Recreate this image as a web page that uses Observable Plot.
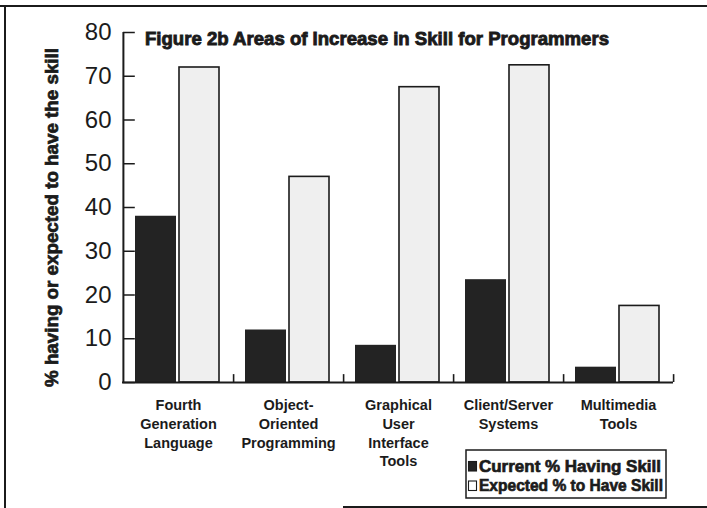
<!DOCTYPE html>
<html><head><meta charset="utf-8">
<script src="https://cdn.jsdelivr.net/npm/d3@7"></script>
<script src="https://cdn.jsdelivr.net/npm/@observablehq/plot@0.6"></script>
<style>body{margin:0;background:#fff} #chart{width:707px;height:508px;}</style>
</head><body><div id="chart"></div>
<script>
const categories = ["Fourth Generation Language", "Object-Oriented Programming", "Graphical User Interface Tools", "Client/Server Systems", "Multimedia Tools"];
const tickLabels = ["Fourth\nGeneration\nLanguage", "Object-\nOriented\nProgramming", "Graphical\nUser\nInterface\nTools", "Client/Server\nSystems", "Multimedia\nTools"];
const current = [38, 12, 8.5, 23.5, 3.5];
const expected = [72, 47, 67.5, 72.5, 17.5];
const seriesNames = ["Current % Having Skill", "Expected % to Have Skill"];
const yTicks = [0, 10, 20, 30, 40, 50, 60, 70, 80];
const titleText = "Figure 2b Areas of Increase in Skill for Programmers";
const yTitle = "% having or expected to have the skill";

const rows = categories.flatMap((c, i) => [
  {category: c, series: seriesNames[0], value: current[i]},
  {category: c, series: seriesNames[1], value: expected[i]}
]);

const ink = "#1b1b1b";
const W = 707, H = 508, mL = 122, mR = 34, mT = 32, mB = 126;
const bw = (W - mL - mR) / categories.length;

const svg = Plot.plot({
  width: W, height: H,
  marginLeft: mL, marginRight: mR, marginTop: mT, marginBottom: mB,
  style: {background: "#fff", color: ink, fontFamily: "'Liberation Sans', Arial, sans-serif", overflow: "visible"},
  x: {domain: categories, padding: 0, axis: null},
  y: {domain: [0, 80], axis: null},
  marks: [
    Plot.tickY(yTicks, {x: () => categories[0], y: d => d, stroke: ink, strokeWidth: 1.5, insetRight: bw - 12}),
    Plot.barY(rows.filter(d => d.series === seriesNames[0]), {x: "category", y: "value", fill: "#232323", insetLeft: 12, insetRight: 57}),
    Plot.barY(rows.filter(d => d.series === seriesNames[1]), {x: "category", y: "value", fill: "#efefef", stroke: ink, strokeWidth: 1.6, insetLeft: 56, insetRight: 14}),
    Plot.ruleY([0], {stroke: ink, strokeWidth: 2}),
    Plot.ruleX(categories, {x: d => d, y1: 0, y2: 1.8, dx: bw / 2, stroke: ink, strokeWidth: 1.6}),
    Plot.ruleX([categories[0]], {x: d => d, dx: -bw / 2, stroke: ink, strokeWidth: 2}),
    Plot.axisY({ticks: yTicks, tickSize: 0, tickPadding: 11, fontSize: 24, label: null}),
    Plot.axisX({tickSize: 0, tickPadding: 14, fontSize: 14.5, fontWeight: "bold", lineHeight: 1.3,
      tickFormat: d => tickLabels[categories.indexOf(d)], label: null})
  ]
});

const s = d3.select(svg);
// frame lines of the scanned figure
s.append("line").attr("x1", 0).attr("x2", W).attr("y1", 6).attr("y2", 6).attr("stroke", ink).attr("stroke-width", 2);
s.append("line").attr("x1", 5).attr("x2", 5).attr("y1", 6).attr("y2", H).attr("stroke", ink).attr("stroke-width", 2);
s.append("line").attr("x1", 343).attr("x2", W).attr("y1", 507).attr("y2", 507).attr("stroke", ink).attr("stroke-width", 2);

// title
s.append("text").text(titleText)
  .attr("x", 145).attr("y", 45).attr("text-anchor", "start")
  .attr("font-size", 19).attr("font-weight", "bold").attr("fill", ink)
  .attr("stroke", ink).attr("stroke-width", 0.9)
  .attr("textLength", 464).attr("lengthAdjust", "spacingAndGlyphs");

// y title
s.append("text").text(yTitle)
  .attr("transform", "translate(58,217.5) rotate(-90)")
  .attr("text-anchor", "middle")
  .attr("font-size", 17.5).attr("font-weight", "bold").attr("fill", ink)
  .attr("stroke", ink).attr("stroke-width", 0.7)
  .attr("textLength", 339).attr("lengthAdjust", "spacingAndGlyphs");

// legend
const lg = s.append("g");
lg.append("rect").attr("x", 466).attr("y", 450).attr("width", 200).attr("height", 48)
  .attr("fill", "#fff").attr("stroke", ink).attr("stroke-width", 1.5);
const swatch = [{fill: "#232323"}, {fill: "#fff"}];
seriesNames.forEach((name, i) => {
  const yb = 471.5 + i * 19.5;
  lg.append("rect").attr("x", 468.5).attr("y", yb - 10).attr("width", 8).attr("height", 9.5)
    .attr("fill", swatch[i].fill).attr("stroke", ink).attr("stroke-width", 1.1);
  lg.append("text").text(name).attr("x", 479).attr("y", yb).attr("text-anchor", "start")
    .attr("font-size", 17).attr("font-weight", "bold").attr("fill", ink)
    .attr("stroke", ink).attr("stroke-width", 0.7)
    .attr("textLength", i === 0 ? 182 : 184).attr("lengthAdjust", "spacingAndGlyphs");
});

document.getElementById("chart").appendChild(svg);
</script>
</body></html>
